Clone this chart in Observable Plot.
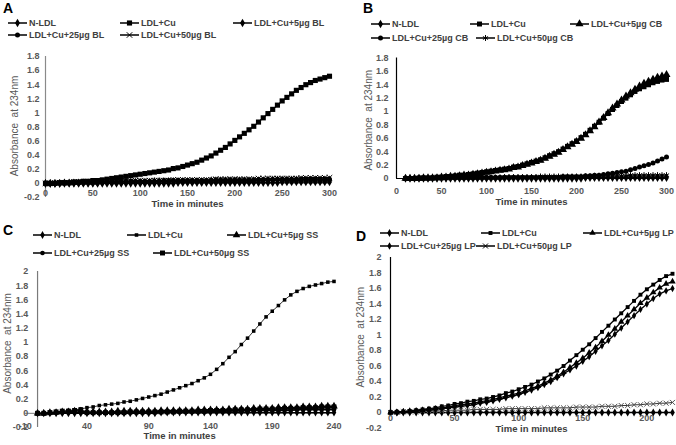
<!DOCTYPE html>
<html><head><meta charset="utf-8">
<script src="https://cdn.jsdelivr.net/npm/d3@7"></script>
<script src="https://cdn.jsdelivr.net/npm/@observablehq/plot@0.6"></script>
<style>
body{margin:0;background:#fff;}
#fig{position:relative;width:676px;height:445px;overflow:hidden;background:#fff;font-family:"Liberation Sans",Arial,sans-serif;}
.pan{position:absolute;}
.letter{position:absolute;font-weight:bold;font-size:14px;line-height:14px;color:#000;}
.leg{position:absolute;font-size:9px;font-weight:bold;color:#404040;white-space:nowrap;line-height:10px;height:10px;display:flex;align-items:center;}
.leg svg{margin-right:2px;flex:none;}
</style></head><body><div id="fig"></div>
<script>
// ---------- DATA ----------
const labelsA = ["N-LDL","LDL+Cu","LDL+Cu+5µg BL","LDL+Cu+25µg BL","LDL+Cu+50µg BL"];
const labelsB = ["N-LDL","LDL+Cu","LDL+Cu+5µg CB","LDL+Cu+25µg CB","LDL+Cu+50µg CB"];
const labelsC = ["N-LDL","LDL+Cu","LDL+Cu+5µg SS","LDL+Cu+25µg SS","LDL+Cu+50µg SS"];
const labelsD = ["N-LDL","LDL+Cu","LDL+Cu+5µg LP","LDL+Cu+25µg LP","LDL+Cu+50µg LP"];

const xTicksA = [0,50,100,150,200,250,300];
const xTicksB = [0,50,100,150,200,250,300];
const xTicksC = [-10,40,90,140,190,240];
const xTicksD = [0,50,100,150,200];
const yTicksA = [-0.2,0,0.2,0.4,0.6,0.8,1,1.2,1.4,1.6,1.8];
const yTicksB = [0,0.2,0.4,0.6,0.8,1,1.2,1.4,1.6,1.8];
const yTicksC = [-0.2,0,0.2,0.4,0.6,0.8,1,1.2,1.4,1.6,1.8,2];
const yTicksD = [-0.2,0,0.2,0.4,0.6,0.8,1,1.2,1.4,1.6,1.8,2];

// sampling times (minutes)
const timeA = d3.range(0, 301, 5);
const timeB = d3.range(10, 301, 5);
const timeC = d3.range(0, 241, 5);
const timeD = d3.range(0, 221, 5);

// Panel A (BL)
const nldlA = [0.00,0.00,0.00,0.00,0.00,0.00,0.00,0.00,0.00,0.00,
 0.00,0.00,0.00,0.00,0.00,0.00,0.00,0.00,0.00,0.00,
 0.00,0.00,0.00,0.00,0.00,0.00,0.00,0.00,0.01,0.01,
 0.01,0.01,0.01,0.01,0.01,0.01,0.01,0.01,0.01,0.01,
 0.01,0.01,0.01,0.01,0.01,0.01,0.01,0.01,0.01,0.01,
 0.02,0.02,0.02,0.02,0.02,0.02,0.02,0.02,0.02,0.02,
 0.02];
const cuA = [0.00,0.00,0.00,0.01,0.01,0.01,0.02,0.02,0.03,0.03,
 0.04,0.04,0.05,0.06,0.07,0.08,0.09,0.10,0.11,0.12,
 0.13,0.14,0.15,0.16,0.17,0.18,0.19,0.21,0.22,0.24,
 0.26,0.28,0.30,0.33,0.36,0.39,0.43,0.47,0.51,0.56,
 0.61,0.66,0.71,0.76,0.81,0.87,0.93,0.99,1.05,1.11,
 1.17,1.22,1.27,1.32,1.36,1.40,1.43,1.46,1.48,1.50,
 1.52];
const bl5A = [0.00,0.00,0.00,0.00,0.01,0.01,0.01,0.01,0.01,0.01,
 0.01,0.01,0.02,0.02,0.02,0.02,0.02,0.02,0.02,0.02,
 0.02,0.02,0.02,0.03,0.03,0.03,0.03,0.03,0.03,0.03,
 0.03,0.03,0.03,0.03,0.03,0.04,0.04,0.04,0.04,0.04,
 0.04,0.04,0.04,0.04,0.04,0.04,0.04,0.05,0.05,0.05,
 0.05,0.05,0.05,0.05,0.05,0.05,0.05,0.05,0.05,0.05,
 0.05];
const bl25A = [0.00,0.00,0.00,0.01,0.01,0.01,0.01,0.01,0.02,0.02,
 0.02,0.02,0.02,0.02,0.02,0.03,0.03,0.03,0.03,0.03,
 0.03,0.03,0.03,0.03,0.03,0.04,0.04,0.04,0.04,0.04,
 0.04,0.04,0.04,0.04,0.04,0.04,0.05,0.05,0.05,0.05,
 0.05,0.05,0.05,0.05,0.05,0.05,0.05,0.05,0.05,0.06,
 0.06,0.06,0.06,0.06,0.06,0.06,0.06,0.06,0.06,0.06,
 0.06];
const bl50A = [0.00,0.00,0.01,0.01,0.01,0.01,0.02,0.02,0.02,0.02,
 0.02,0.02,0.03,0.03,0.03,0.03,0.03,0.03,0.03,0.04,
 0.04,0.04,0.04,0.04,0.04,0.04,0.04,0.05,0.05,0.05,
 0.05,0.05,0.05,0.05,0.05,0.05,0.06,0.06,0.06,0.06,
 0.06,0.06,0.06,0.06,0.06,0.07,0.07,0.07,0.07,0.07,
 0.07,0.07,0.07,0.07,0.08,0.08,0.08,0.08,0.08,0.08,
 0.08];

// Panel B (CB)
const nldlB = [0.00,0.00,0.00,0.00,0.00,0.00,0.00,0.00,0.00,0.00,
 0.00,0.00,0.00,0.00,0.00,0.00,0.00,0.00,0.00,0.00,
 0.00,0.00,0.00,0.00,0.00,0.00,0.00,0.00,0.00,0.00,
 0.00,0.00,0.00,0.00,0.00,0.00,0.00,0.00,0.00,0.00,
 0.01,0.01,0.01,0.01,0.01,0.01,0.01,0.01,0.01,0.01,
 0.01,0.01,0.01,0.01,0.01,0.01,0.01,0.01,0.01];
const cuB = [0.00,0.00,0.00,0.01,0.01,0.01,0.01,0.02,0.02,0.03,
 0.03,0.04,0.05,0.05,0.06,0.07,0.08,0.09,0.10,0.11,
 0.12,0.13,0.14,0.15,0.17,0.18,0.20,0.22,0.24,0.26,
 0.28,0.31,0.34,0.37,0.40,0.44,0.48,0.52,0.56,0.61,
 0.66,0.72,0.78,0.84,0.90,0.97,1.03,1.09,1.15,1.20,
 1.25,1.30,1.34,1.37,1.40,1.43,1.45,1.47,1.48];
const cb5B = [0.00,0.00,0.00,0.00,0.01,0.01,0.01,0.01,0.02,0.02,
 0.03,0.03,0.04,0.05,0.05,0.06,0.07,0.08,0.09,0.10,
 0.11,0.12,0.13,0.14,0.16,0.17,0.19,0.21,0.23,0.25,
 0.27,0.30,0.33,0.36,0.39,0.43,0.47,0.51,0.55,0.60,
 0.65,0.71,0.77,0.84,0.91,0.98,1.05,1.11,1.17,1.23,
 1.28,1.33,1.38,1.42,1.45,1.48,1.51,1.53,1.55];
const cb25B = [0.00,0.00,0.00,0.00,0.00,0.00,0.01,0.01,0.01,0.01,
 0.01,0.01,0.01,0.01,0.01,0.01,0.01,0.02,0.02,0.02,
 0.02,0.02,0.02,0.02,0.02,0.02,0.02,0.02,0.02,0.02,
 0.02,0.02,0.02,0.02,0.02,0.03,0.03,0.03,0.03,0.03,
 0.04,0.04,0.05,0.05,0.06,0.07,0.08,0.09,0.10,0.11,
 0.13,0.15,0.17,0.19,0.21,0.23,0.26,0.29,0.32];
const cb50B = [0.00,0.00,0.00,0.00,0.00,0.00,0.00,0.00,0.00,0.00,
 0.01,0.01,0.01,0.01,0.01,0.01,0.01,0.01,0.01,0.01,
 0.01,0.01,0.02,0.02,0.02,0.02,0.02,0.02,0.02,0.02,
 0.03,0.03,0.03,0.03,0.03,0.03,0.03,0.03,0.03,0.03,
 0.03,0.03,0.04,0.04,0.04,0.04,0.04,0.04,0.04,0.04,
 0.05,0.05,0.05,0.05,0.05,0.05,0.05,0.05,0.05];

// Panel C (SS)
const nldlC = [0.00,0.00,0.00,0.00,0.00,0.00,0.00,0.00,0.00,0.00,
 0.00,0.00,0.00,0.00,0.00,0.00,0.00,0.00,0.00,0.00,
 0.01,0.01,0.01,0.01,0.01,0.01,0.01,0.01,0.01,0.01,
 0.01,0.01,0.01,0.01,0.01,0.01,0.01,0.01,0.01,0.01,
 0.01,0.01,0.01,0.01,0.01,0.01,0.01,0.01,0.01];
const cuC = [0.00,0.00,0.01,0.02,0.03,0.04,0.05,0.06,0.08,0.09,
 0.11,0.12,0.13,0.14,0.16,0.17,0.19,0.21,0.23,0.25,
 0.27,0.30,0.33,0.36,0.39,0.42,0.46,0.50,0.55,0.62,
 0.70,0.79,0.87,0.97,1.06,1.16,1.26,1.36,1.44,1.52,
 1.60,1.67,1.72,1.76,1.79,1.81,1.83,1.85,1.86];
const ss5C = [0.00,0.00,0.01,0.01,0.02,0.02,0.03,0.03,0.02,0.02,
 0.02,0.02,0.02,0.03,0.03,0.03,0.03,0.03,0.03,0.03,
 0.04,0.04,0.04,0.04,0.04,0.04,0.05,0.05,0.05,0.05,
 0.05,0.06,0.06,0.06,0.06,0.07,0.07,0.07,0.07,0.08,
 0.08,0.08,0.08,0.09,0.09,0.09,0.10,0.10,0.10];
const ss25C = [0.00,0.00,0.00,0.01,0.01,0.01,0.01,0.01,0.01,0.01,
 0.01,0.01,0.01,0.01,0.01,0.02,0.02,0.02,0.02,0.02,
 0.02,0.02,0.02,0.02,0.02,0.03,0.03,0.03,0.03,0.03,
 0.03,0.03,0.03,0.03,0.04,0.04,0.04,0.04,0.04,0.04,
 0.04,0.04,0.05,0.05,0.05,0.05,0.05,0.05,0.05];
const ss50C = [0.00,0.00,0.01,0.02,0.03,0.03,0.04,0.05,0.01,0.01,
 0.01,0.01,0.01,0.01,0.01,0.02,0.02,0.02,0.02,0.02,
 0.02,0.02,0.02,0.03,0.03,0.03,0.03,0.03,0.04,0.04,
 0.04,0.04,0.05,0.05,0.05,0.05,0.06,0.06,0.06,0.06,
 0.07,0.07,0.07,0.08,0.08,0.08,0.09,0.09,0.09];

// Panel D (LP)
const nldlD = [0.00,0.00,0.00,0.00,0.00,0.00,0.00,0.00,0.00,0.00,
 0.00,0.00,0.00,0.00,0.00,0.00,0.00,0.00,0.00,0.00,
 0.00,0.00,0.00,0.00,0.00,0.00,0.00,0.00,0.00,0.00,
 0.00,0.00,0.00,0.00,0.00,0.00,0.00,0.00,0.00,0.00,
 0.00,0.00,0.00,0.00,0.00];
const cuD = [0.00,0.01,0.01,0.02,0.03,0.04,0.05,0.06,0.08,0.09,
 0.11,0.12,0.14,0.15,0.17,0.18,0.20,0.22,0.25,0.27,
 0.30,0.33,0.36,0.40,0.44,0.49,0.54,0.60,0.67,0.74,
 0.81,0.88,0.96,1.04,1.12,1.20,1.28,1.36,1.44,1.52,
 1.59,1.65,1.71,1.76,1.79];
const lp5D = [0.00,0.00,0.01,0.02,0.02,0.03,0.04,0.05,0.06,0.07,
 0.09,0.10,0.11,0.12,0.14,0.15,0.17,0.19,0.21,0.23,
 0.25,0.28,0.31,0.34,0.38,0.42,0.47,0.52,0.58,0.64,
 0.70,0.77,0.84,0.92,1.00,1.08,1.17,1.25,1.33,1.41,
 1.48,1.55,1.61,1.66,1.69];
const lp25D = [0.00,0.00,0.01,0.01,0.02,0.03,0.03,0.04,0.05,0.06,
 0.07,0.08,0.09,0.10,0.12,0.13,0.15,0.17,0.19,0.21,
 0.23,0.26,0.29,0.32,0.36,0.40,0.45,0.50,0.55,0.60,
 0.66,0.72,0.79,0.86,0.93,1.01,1.09,1.17,1.25,1.33,
 1.40,1.47,1.53,1.57,1.60];
const lp50D = [0.00,0.00,0.01,0.01,0.01,0.02,0.02,0.02,0.02,0.03,
 0.03,0.03,0.03,0.04,0.04,0.04,0.04,0.04,0.05,0.05,
 0.05,0.05,0.05,0.05,0.06,0.06,0.06,0.06,0.06,0.07,
 0.07,0.07,0.07,0.08,0.08,0.08,0.09,0.09,0.10,0.10,
 0.11,0.11,0.12,0.12,0.13];

// ---------- DRAWING ----------
const FONT = "Liberation Sans, Arial, sans-serif";
const symMap = {diamond: d3.symbolDiamond, square: d3.symbolSquare, triangle: d3.symbolTriangle,
  circle: d3.symbolCircle, times: d3.symbolTimes, asterisk: d3.symbolAsterisk};
const strokeSyms = new Set(["times","asterisk"]);
const fmt = d => d === 0 ? "0" : String(+d.toFixed(1));
const fig = document.getElementById("fig");

function makeSeries(times, values, label, sym, r, lw, col) {
  return {label, sym, r, lw: lw ?? 1.3, col: col ?? "#000",
          data: values.map((v, i) => ({t: times[i], v}))};
}

function panel(p) {
  const marks = [];
  marks.push(Plot.ruleY([0], {stroke: p.axisColor, strokeWidth: 1}));
  marks.push(Plot.ruleX([0], {y1: p.vFrom, y2: p.yDomain[1], stroke: p.axisColor, strokeWidth: 1.2}));
  for (const s of p.series) {
    marks.push(Plot.line(s.data, {x: "t", y: "v", stroke: "#000", strokeWidth: s.lw}));
    const st = strokeSyms.has(s.sym);
    marks.push(Plot.dot(s.data, {x: "t", y: "v", symbol: () => s.sym, r: s.r,
      fill: st ? "none" : s.col, stroke: st ? s.col : "none", strokeWidth: 1}));
  }
  marks.push(Plot.axisY(p.yTicks, {tickSize: 0, tickPadding: p.yPad, tickFormat: fmt, fill: "#595959", label: null}));
  marks.push(Plot.axisX(p.xTicks, {tickSize: 0, tickPadding: p.xPad, tickFormat: d => String(d), fill: "#595959", label: null}));
  marks.push(Plot.text(["Time in minutes"], {frameAnchor: "bottom", dy: p.titleDy, fontSize: 9.5, fontWeight: "bold", fill: "#404040"}));
  marks.push(Plot.text(["Absorbance\u00a0 at 234nm"], {frameAnchor: "left", textAnchor: "middle", rotate: -90,
     dx: p.ylDx, dy: p.ylDy, fontSize: 10, fontWeight: "normal", fill: "#595959"}));
  const svg = Plot.plot({
    width: p.w, height: p.h,
    marginLeft: p.ml, marginRight: p.mr, marginTop: p.mt, marginBottom: p.mb,
    x: {domain: p.xDomain, label: null}, y: {domain: p.yDomain, label: null},
    style: {fontFamily: FONT, fontSize: "9px", fontWeight: "bold", background: "transparent", overflow: "visible"},
    marks
  });
  const wrap = document.createElement("div");
  wrap.className = "pan"; wrap.style.left = p.left + "px"; wrap.style.top = p.top + "px";
  wrap.appendChild(svg);
  fig.appendChild(wrap);

  const L = document.createElement("div");
  L.className = "letter"; L.textContent = p.letter;
  L.style.left = p.letterX + "px"; L.style.top = (p.letterY - 7) + "px";
  fig.appendChild(L);

  p.series.forEach((s, i) => {
    const pos = p.legendPos[i];
    const div = document.createElement("div");
    div.className = "leg"; div.style.left = pos[0] + "px"; div.style.top = (pos[1] - 5) + "px";
    const sv = d3.create("svg").attr("width", 19).attr("height", 10);
    sv.append("line").attr("x1", 0).attr("x2", 19).attr("y1", 5).attr("y2", 5).attr("stroke", "#000").attr("stroke-width", 1.5);
    const st = strokeSyms.has(s.sym);
    sv.append("path").attr("transform", "translate(9.5,5)")
      .attr("d", d3.symbol(symMap[s.sym], Math.PI * s.r * s.r)())
      .attr("fill", st ? "none" : "#000").attr("stroke", st ? "#000" : "none");
    div.appendChild(sv.node());
    const sp = document.createElement("span"); sp.textContent = s.label;
    div.appendChild(sp);
    fig.appendChild(div);
  });
}

panel({
  letter: "A", letterX: 3, letterY: 8,
  left: 0, top: 0, w: 338, h: 222, ml: 45, mr: 9, mt: 56, mb: 25,
  xDomain: [0, 300], yDomain: [-0.2, 1.8], xTicks: xTicksA, yTicks: yTicksA, vFrom: -0.2,
  axisColor: "#8a8a8a", yPad: 6, xPad: -7.5, titleDy: 9.5, ylDx: -31, ylDy: -1,
  series: [
    makeSeries(timeA, nldlA, labelsA[0], "diamond", 2.6),
    makeSeries(timeA, bl5A, labelsA[2], "diamond", 2.6),
    makeSeries(timeA, bl25A, labelsA[3], "circle", 2.5),
    makeSeries(timeA, bl50A, labelsA[4], "times", 2.6),
    makeSeries(timeA, cuA, labelsA[1], "square", 2.9)
  ],
  legendPos: [[8,22.7],[233,22.7],[8,34.5],[120,34.5],[120,22.7]]
});

panel({
  letter: "B", letterX: 363, letterY: 8,
  left: 338, top: 0, w: 338, h: 222, ml: 58, mr: 10, mt: 57.5, mb: 44,
  xDomain: [0, 300], yDomain: [0, 1.8], xTicks: xTicksB, yTicks: yTicksB, vFrom: 0,
  axisColor: "#000", yPad: 8, xPad: 8.8, titleDy: 26, ylDx: -28, ylDy: 2,
  series: [
    makeSeries(timeB, nldlB, labelsB[0], "diamond", 2.6),
    makeSeries(timeB, cb50B, labelsB[4], "asterisk", 2.8),
    makeSeries(timeB, cb25B, labelsB[3], "circle", 2.5),
    makeSeries(timeB, cuB, labelsB[1], "square", 2.8),
    makeSeries(timeB, cb5B, labelsB[2], "triangle", 3.0)
  ],
  legendPos: [[371,24],[476,38],[371,38],[470,24],[570,24]]
});

panel({
  letter: "C", letterX: 3, letterY: 230,
  left: 0, top: 222, w: 338, h: 223, ml: 24.7, mr: 4.5, mt: 49, mb: 18,
  xDomain: [-10, 240], yDomain: [-0.2, 2], xTicks: xTicksC, yTicks: yTicksC, vFrom: -0.2,
  axisColor: "#7a7a7a", yPad: -3, xPad: -5.2, titleDy: 11.5, ylDx: -17.7, ylDy: -6,
  series: [
    makeSeries(timeC, nldlC, labelsC[0], "diamond", 2.4),
    makeSeries(timeC, ss25C, labelsC[3], "circle", 2.3),
    makeSeries(timeC, ss5C, labelsC[2], "triangle", 2.8),
    makeSeries(timeC, ss50C, labelsC[4], "square", 2.8),
    makeSeries(timeC, cuC, labelsC[1], "square", 2.0, 0.8)
  ],
  legendPos: [[33,235],[33,253],[227,235],[153,253],[127,235]]
});

panel({
  letter: "D", letterX: 356, letterY: 236,
  left: 338, top: 222, w: 338, h: 223, ml: 52, mr: 4, mt: 35, mb: 17.5,
  xDomain: [0, 220], yDomain: [-0.2, 2], xTicks: xTicksD, yTicks: yTicksD, vFrom: 0,
  axisColor: "#000", yPad: 9, xPad: -13.7, titleDy: 3.5, ylDx: -30, ylDy: -5.5,
  series: [
    makeSeries(timeD, nldlD, labelsD[0], "diamond", 2.4),
    makeSeries(timeD, lp50D, labelsD[4], "times", 2.4, 0.8, "#555"),
    makeSeries(timeD, lp25D, labelsD[3], "diamond", 2.2),
    makeSeries(timeD, lp5D, labelsD[2], "triangle", 2.4),
    makeSeries(timeD, cuD, labelsD[1], "square", 2.2)
  ],
  legendPos: [[380,233],[476,246],[380,246],[583,233],[481,233]]
});
</script></body></html>
